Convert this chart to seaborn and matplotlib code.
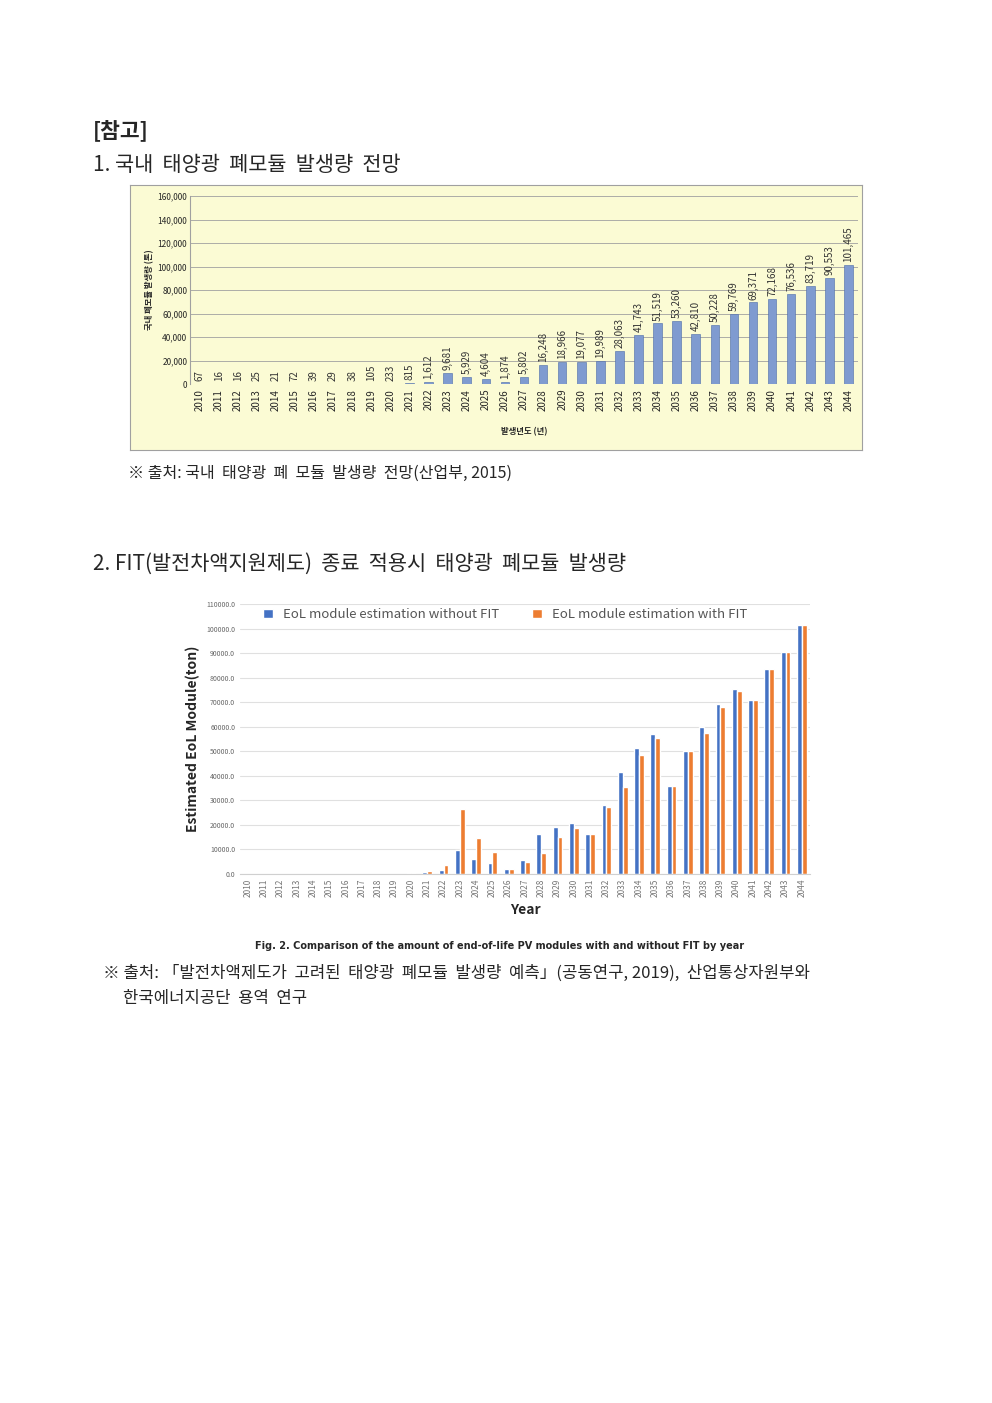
import numpy as np
import pandas as pd
import matplotlib.pyplot as plt
import seaborn as sns

sns.set_style("white")
plt.rcParams['font.family'] = ['Noto Sans CJK KR', 'DejaVu Sans']

years = [str(y) for y in range(2010, 2045)]

# 1. 국내 태양광 폐모듈 발생량 전망 (톤)
gen = [67, 16, 16, 25, 21, 72, 39, 29, 38, 105, 233, 815, 1612, 9681, 5929, 4604,
       1874, 5802, 16248, 18966, 19077, 19989, 28063, 41743, 51519, 53260, 42810,
       50228, 59769, 69371, 72168, 76536, 83719, 90553, 101465]

# 2. FIT 종료 적용시
no_fit = [0, 0, 0, 0, 0, 0, 0, 0, 0, 100, 233, 815, 1612, 9681, 5929, 4604,
          1874, 5802, 16248, 18966, 20800, 16500, 28000, 41700, 51500, 57000, 36000,
          50300, 59800, 69300, 75200, 70800, 83700, 90500, 101500]
with_fit = [0, 0, 0, 0, 0, 0, 0, 0, 0, 150, 300, 1200, 3500, 26300, 14500, 8800,
            1874, 4700, 8500, 15000, 18800, 16300, 27300, 35400, 48300, 55300, 36000,
            50000, 57300, 68000, 74600, 70800, 83700, 90500, 101500]

fig = plt.figure(figsize=(9.92, 14.03), dpi=100)
W, H = 992, 1403

def box(x0, y0, x1, y1):
    return [x0 / W, 1 - y1 / H, (x1 - x0) / W, (y1 - y0) / H]

fig.text(93 / W, 1 - 130 / H, "[참고]", fontsize=15.5, fontweight='bold', va='center')
fig.text(93 / W, 1 - 165 / H, "1. 국내  태양광  폐모듈  발생량  전망", fontsize=15, va='center')
fig.text(128 / W, 1 - 473 / H, "※ 출처: 국내  태양광  폐  모듈  발생량  전망(산업부, 2015)", fontsize=11.5, va='center')
fig.text(93 / W, 1 - 564 / H, "2. FIT(발전차액지원제도)  종료  적용시  태양광  폐모듈  발생량", fontsize=15, va='center')
fig.text(500 / W, 1 - 946 / H, "Fig. 2. Comparison of the amount of end-of-life PV modules with and without FIT by year",
         fontsize=7, fontweight='bold', ha='center', va='center', family=['DejaVu Sans'])
fig.text(103 / W, 1 - 973 / H, "※ 출처: 「발전차액제도가  고려된  태양광  폐모듈  발생량  예측」(공동연구, 2019),  산업통상자원부와",
         fontsize=12, va='center')
fig.text(123 / W, 1 - 999 / H, "한국에너지공단  용역  연구", fontsize=12, va='center')

# chart 1 background box
bg = fig.add_axes(box(130, 185, 862, 450))
bg.set_facecolor('#fbfbd4')
bg.set_xticks([])
bg.set_yticks([])
for s in bg.spines.values():
    s.set_color('#a0a0a0')
    s.set_linewidth(0.8)

ax1 = fig.add_axes(box(190, 196, 858, 384))
ax1.patch.set_alpha(0)
df1 = pd.DataFrame({'year': years, 'val': gen})
sns.barplot(data=df1, x='year', y='val', color='#7f9bd0', width=0.45, ax=ax1, saturation=1,
            edgecolor='#4a6aa8', linewidth=0.4)
ax1.set_ylim(0, 160000)
ax1.set_yticks(range(0, 160001, 20000))
ax1.set_yticklabels([f"{v:,}" for v in range(0, 160001, 20000)], fontsize=6)
ax1.yaxis.grid(True, color='#a0a0a0', lw=0.6)
ax1.set_axisbelow(True)
for s in ['top', 'right', 'bottom']:
    ax1.spines[s].set_visible(False)
ax1.spines['left'].set_color('#a0a0a0')
ax1.tick_params(axis='x', labelrotation=90, labelsize=7, length=0)
ax1.tick_params(axis='y', length=0, pad=2)
ax1.set_xlabel("발생년도 (년)", fontsize=6, fontweight='bold', labelpad=12)
ax1.set_ylabel("국내 폐모듈 발생량 (톤)", fontsize=6, fontweight='bold', labelpad=2)
for i, v in enumerate(gen):
    ax1.text(i, v + 2500, f"{v:,}", rotation=90, ha='center', va='bottom', fontsize=7, color='#333333')

# chart 2
ax2 = fig.add_axes(box(240, 604, 810, 874))
df2 = pd.DataFrame({'year': years * 2,
                    'val': no_fit + with_fit,
                    'series': ['EoL module estimation without FIT'] * 35 + ['EoL module estimation with FIT'] * 35})
sns.barplot(data=df2, x='year', y='val', hue='series', palette=['#4472c4', '#ed7d31'],
            width=0.6, ax=ax2, saturation=1)
ax2.set_ylim(0, 110000)
ax2.set_yticks(range(0, 110001, 10000))
ax2.set_yticklabels([f"{v:.1f}" for v in range(0, 110001, 10000)], fontsize=5, color='#666666')
ax2.yaxis.grid(True, color='#e0e0e0', lw=0.8)
ax2.set_axisbelow(True)
sns.despine(ax=ax2, left=True)
ax2.spines['bottom'].set_color('#d0d0d0')
ax2.tick_params(axis='x', labelrotation=90, labelsize=6, length=0, labelcolor='#777777')
ax2.tick_params(axis='y', length=0)
ax2.set_xlabel("Year", fontsize=10, fontweight='bold', labelpad=4)
ax2.set_ylabel("Estimated EoL Module(ton)", fontsize=10, fontweight='bold')
ax2.legend(loc='upper left', bbox_to_anchor=(0.02, 1.03), ncol=2, frameon=False, fontsize=9.5,
           handlelength=0.7, handleheight=0.7, columnspacing=2.5, labelcolor='#555555')

fig.savefig("out.png", dpi=100)
